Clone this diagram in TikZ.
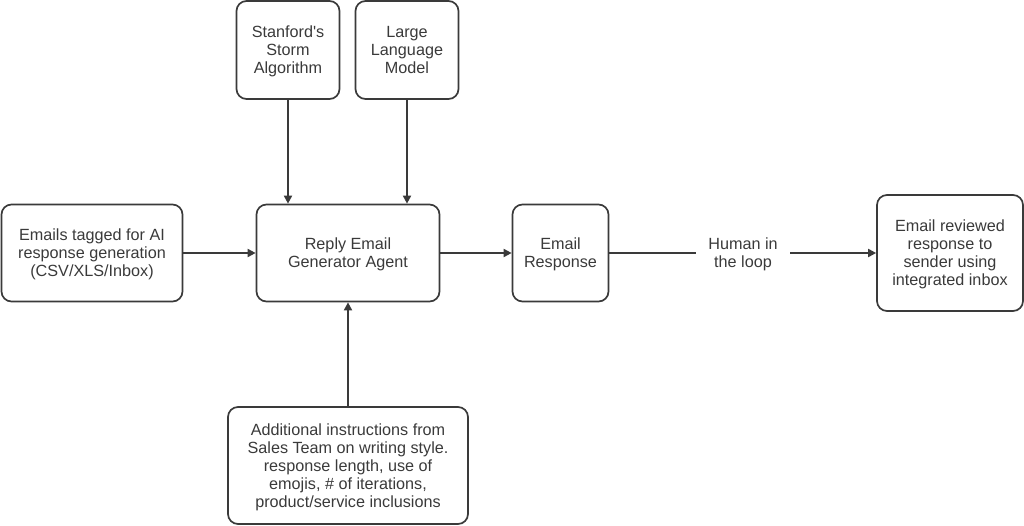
\documentclass[tikz,border=0pt]{standalone}
\usepackage{fontspec}
\setmainfont{Liberation Sans}
\usepackage{tikz}
\usetikzlibrary{arrows.meta}
\definecolor{inkgray}{HTML}{3A3A3A}
\tikzset{
	boxnode/.style={draw=inkgray, line width=1.7pt, rounded corners=10pt, align=center, font=\fontsize{16.2}{18}\selectfont, text=inkgray, inner sep=0pt, text depth=-3.5pt},
	labelnode/.style={align=center, font=\fontsize{16.2}{18}\selectfont, text=inkgray, inner sep=0pt, text depth=-3.5pt},
	flow/.style={draw=inkgray, line width=1.8pt, -{Stealth[length=8pt,width=8pt,inset=0pt]}}
}
\begin{document}
\begin{tikzpicture}[x=1pt,y=-1pt]
	\useasboundingbox (0,0) rectangle (1024,525);
	\node[boxnode, minimum width=103pt, minimum height=98pt] (storm) at (288,50) {Stanford\textquotesingle s\\Storm\\Algorithm};
	\node[boxnode, minimum width=103pt, minimum height=98pt] (llm) at (407,50) {Large\\Language\\Model};
	\node[boxnode, minimum width=181pt, minimum height=97pt] (emails) at (92,253) {Emails tagged for AI\\response generation\\(CSV/XLS/Inbox)};
	\node[boxnode, minimum width=183pt, minimum height=97pt] (agent) at (348,253) {Reply Email\\Generator Agent};
	\node[boxnode, minimum width=96pt, minimum height=97pt] (response) at (560.5,253) {Email\\Response};
	\node[labelnode] (human) at (743,253) {Human in\\the loop};
	\node[boxnode, minimum width=146pt, minimum height=116pt] (reviewed) at (950,253) {Email reviewed\\response to\\sender using\\integrated inbox};
	\node[boxnode, minimum width=240pt, minimum height=117pt] (instr) at (348,465.5) {Additional instructions from\\Sales Team on writing style.\\response length, use of\\emojis, \# of iterations,\\product/service inclusions};
	\coordinate (agentstorm) at (agent.north -| storm);
	\coordinate (agentllm) at (agent.north -| llm);
	\draw[flow] (storm) -- (agentstorm);
	\draw[flow] (llm) -- (agentllm);
	\draw[flow] (emails) -- (agent);
	\draw[flow] (agent) -- (response);
	\draw[draw=inkgray, line width=1.8pt] (response.east) -- (696,253);
	\draw[flow] (790,253) -- (reviewed.west);
	\draw[flow] (instr) -- (agent);
\end{tikzpicture}
\end{document}
